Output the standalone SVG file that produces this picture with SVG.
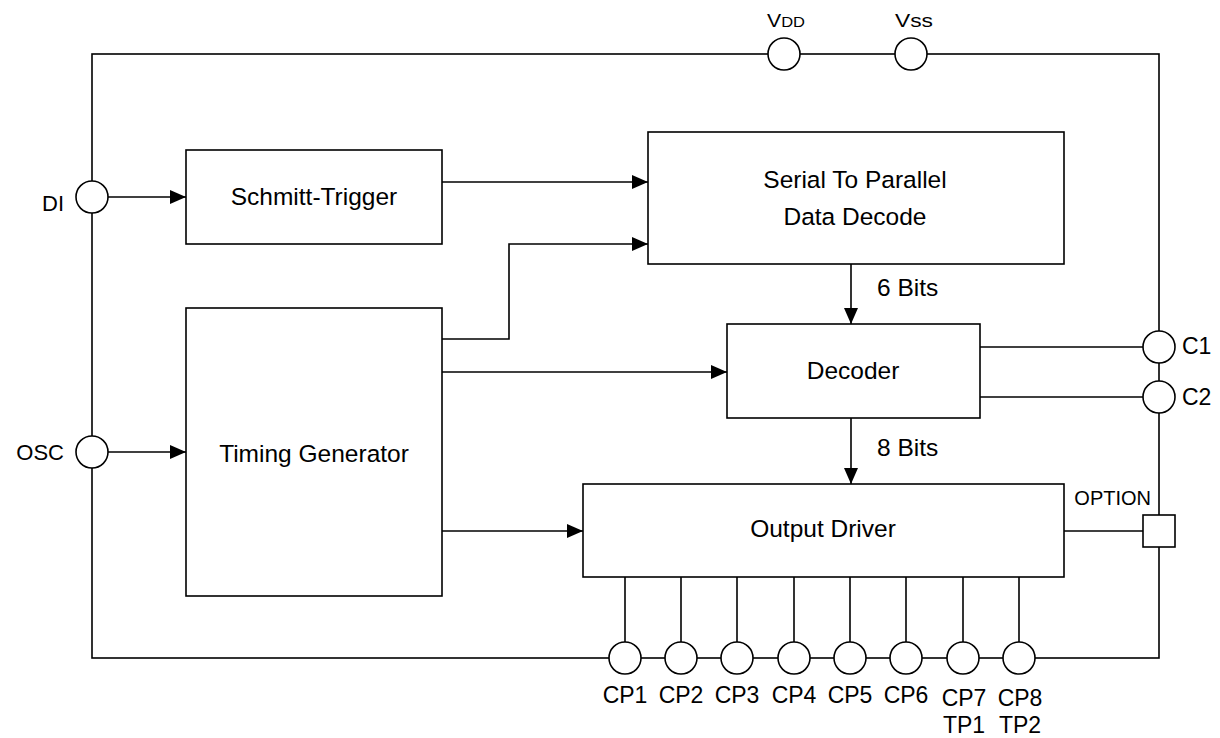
<svg xmlns="http://www.w3.org/2000/svg" width="1220" height="738" viewBox="0 0 1220 738">
<defs>
<marker id="ah" markerWidth="16" markerHeight="14" refX="16" refY="7" orient="auto" markerUnits="userSpaceOnUse">
<path d="M0,0 L16,7 L0,14 Z" fill="#000"/>
</marker>
<style>
.ln{fill:none;stroke:#000;stroke-width:1.6}
.bx{fill:#fff;stroke:#000;stroke-width:1.6}
.pin{fill:#fff;stroke:#000;stroke-width:1.6}
.t{font-family:"Liberation Sans",Arial,sans-serif;font-size:24.5px;fill:#000}
.tc{text-anchor:middle}
.p{font-family:"Liberation Sans",Arial,sans-serif;font-size:22px;fill:#000}
.p2{font-family:"Liberation Sans",Arial,sans-serif;font-size:23px;fill:#000}
.cp{font-family:"Liberation Sans",Arial,sans-serif;font-size:23px;fill:#000;text-anchor:middle}
.pw{font-family:"Liberation Sans",Arial,sans-serif;fill:#000}
</style>
</defs>
<rect width="1220" height="738" fill="#fff"/>
<g id="connectors">
<rect class="ln" x="92" y="54" width="1067" height="604"/>
<line class="ln" x1="108" y1="197" x2="186" y2="197" marker-end="url(#ah)"/>
<line class="ln" x1="108" y1="452" x2="186" y2="452" marker-end="url(#ah)"/>
<line class="ln" x1="442" y1="182" x2="648" y2="182" marker-end="url(#ah)"/>
<polyline class="ln" points="442,339 509,339 509,244 648,244" marker-end="url(#ah)"/>
<line class="ln" x1="442" y1="372" x2="727" y2="372" marker-end="url(#ah)"/>
<line class="ln" x1="442" y1="531" x2="583" y2="531" marker-end="url(#ah)"/>
<line class="ln" x1="851" y1="264" x2="851" y2="324" marker-end="url(#ah)"/>
<line class="ln" x1="851" y1="418" x2="851" y2="484" marker-end="url(#ah)"/>
<line class="ln" x1="980" y1="347" x2="1143" y2="347"/>
<line class="ln" x1="980" y1="397" x2="1143" y2="397"/>
<line class="ln" x1="1064" y1="531" x2="1143" y2="531"/>
<line class="ln" x1="625" y1="577" x2="625" y2="642"/>
<line class="ln" x1="681" y1="577" x2="681" y2="642"/>
<line class="ln" x1="737" y1="577" x2="737" y2="642"/>
<line class="ln" x1="794" y1="577" x2="794" y2="642"/>
<line class="ln" x1="850" y1="577" x2="850" y2="642"/>
<line class="ln" x1="906" y1="577" x2="906" y2="642"/>
<line class="ln" x1="963" y1="577" x2="963" y2="642"/>
<line class="ln" x1="1019" y1="577" x2="1019" y2="642"/>
<text class="t" x="877" y="296">6 Bits</text>
<text class="t" x="877" y="456">8 Bits</text>
</g>
<g id="schmitt">
<rect class="bx" x="186" y="150" width="256" height="94"/>
<text class="t tc" x="314" y="205">Schmitt-Trigger</text>
</g>
<g id="serial">
<rect class="bx" x="648" y="132" width="416" height="132"/>
<text class="t tc" x="855" y="188">Serial To Parallel</text>
<text class="t tc" x="855" y="225">Data Decode</text>
</g>
<g id="timing">
<rect class="bx" x="186" y="308" width="256" height="288"/>
<text class="t tc" x="314" y="462">Timing Generator</text>
</g>
<g id="decoder">
<rect class="bx" x="727" y="324" width="253" height="94"/>
<text class="t tc" x="853" y="379">Decoder</text>
</g>
<g id="driver">
<rect class="bx" x="583" y="484" width="481" height="93"/>
<text class="t tc" x="823" y="537">Output Driver</text>
</g>
<g id="pin-vdd">
<circle class="pin" cx="784" cy="54" r="16"/>
<text class="pw" x="767" y="27" textLength="38" lengthAdjust="spacingAndGlyphs"><tspan font-size="18">V</tspan><tspan font-size="14">DD</tspan></text>
</g>
<g id="pin-vss">
<circle class="pin" cx="911" cy="54" r="16"/>
<text class="pw" x="895" y="27" font-size="18" textLength="38" lengthAdjust="spacingAndGlyphs">Vss</text>
</g>
<g id="pin-di">
<circle class="pin" cx="92" cy="197" r="16"/>
<text class="p" x="64" y="211" text-anchor="end">DI</text>
</g>
<g id="pin-osc">
<circle class="pin" cx="92" cy="452" r="16"/>
<text class="p" x="64" y="460" text-anchor="end">OSC</text>
</g>
<g id="pin-c1">
<circle class="pin" cx="1159" cy="347" r="16"/>
<text class="p2" x="1182" y="354">C1</text>
</g>
<g id="pin-c2">
<circle class="pin" cx="1159" cy="397" r="16"/>
<text class="p2" x="1182" y="405">C2</text>
</g>
<g id="pin-option">
<rect class="pin" x="1143" y="515" width="32" height="32"/>
<text class="pw" x="1151" y="505" text-anchor="end" font-size="20">OPTION</text>
</g>
<g id="pin-cp1"><circle class="pin" cx="625" cy="658" r="16"/><text class="cp" x="625" y="703">CP1</text></g>
<g id="pin-cp2"><circle class="pin" cx="681" cy="658" r="16"/><text class="cp" x="681" y="703">CP2</text></g>
<g id="pin-cp3"><circle class="pin" cx="737" cy="658" r="16"/><text class="cp" x="737" y="703">CP3</text></g>
<g id="pin-cp4"><circle class="pin" cx="794" cy="658" r="16"/><text class="cp" x="794" y="703">CP4</text></g>
<g id="pin-cp5"><circle class="pin" cx="850" cy="658" r="16"/><text class="cp" x="850" y="703">CP5</text></g>
<g id="pin-cp6"><circle class="pin" cx="906" cy="658" r="16"/><text class="cp" x="906" y="703">CP6</text></g>
<g id="pin-cp7"><circle class="pin" cx="963" cy="658" r="16"/><text class="cp" x="964" y="706">CP7</text><text class="cp" x="964" y="733">TP1</text></g>
<g id="pin-cp8"><circle class="pin" cx="1019" cy="658" r="16"/><text class="cp" x="1020" y="706">CP8</text><text class="cp" x="1020" y="733">TP2</text></g>
</svg>
